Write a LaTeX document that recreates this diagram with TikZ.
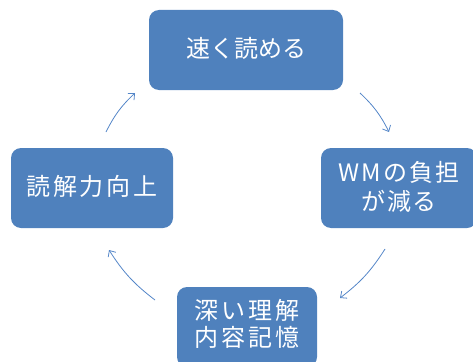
\documentclass[tikz,border=0pt]{standalone}
\usepackage{fontspec}
\newfontfamily\jp{Noto Sans CJK JP}
\newfontfamily\jpsp{Noto Sans CJK JP}[LetterSpace=12]
\newfontfamily\jpsr{Noto Sans CJK JP}[LetterSpace=8]
\usetikzlibrary{arrows.meta}
\definecolor{boxblue}{RGB}{79,129,189}
\definecolor{arrowblue}{RGB}{84,134,200}
\tikzset{
  stepbox/.style={rectangle, rounded corners=10pt, fill=boxblue, draw=none,
    inner sep=0pt, minimum height=80pt},
  steptext/.style={text=white, align=center, inner sep=0pt, yshift=2pt,
    font=\jp\fontsize{24}{29}\selectfont},
  cyc/.style={draw=arrowblue, line width=0.8pt,
    -{Straight Barb[length=5pt,width=9pt,line width=0.8pt]}}
}
\begin{document}
\begin{tikzpicture}[x=1pt,y=-1pt]
\useasboundingbox (0,0) rectangle (473,361);
\begin{scope}
\clip (0,0) rectangle (473,361);
\node[stepbox, minimum width=194pt] (top) at (246,50) {};
\node[stepbox, minimum width=156pt] (right) at (399,188) {};
\node[stepbox, minimum width=140pt] (bottom) at (247,327) {};
\node[stepbox, minimum width=162pt] (left) at (92,188) {};
\node[steptext] (ttop) at (top) {速く読める};
\node[steptext, font=\jpsr\fontsize{24}{29}\selectfont, yshift=-1pt] (tright) at (right) {WMの負担\\が減る};
\node[steptext, font=\jpsp\fontsize{24}{27}\selectfont, yshift=1pt] (tbottom) at (bottom) {深い理解\\内容記憶};
\node[steptext, font=\jpsp\fontsize{24}{29}\selectfont] (tleft) at (left) {読解力向上};
\end{scope}
\coordinate (a1) at (360,93);
\coordinate (a2) at (389,132);
\coordinate (b1) at (385,249);
\coordinate (b2) at (340,298);
\coordinate (c1) at (155,300);
\coordinate (c2) at (109,250);
\coordinate (d1) at (106,132);
\coordinate (d2) at (135,93);
\draw[cyc] (a1) to[bend left=10] (a2);
\draw[cyc] (b1) to[bend left=10] (b2);
\draw[cyc] (c1) to[bend left=10] (c2);
\draw[cyc] (d1) to[bend left=10] (d2);
\end{tikzpicture}
\end{document}
